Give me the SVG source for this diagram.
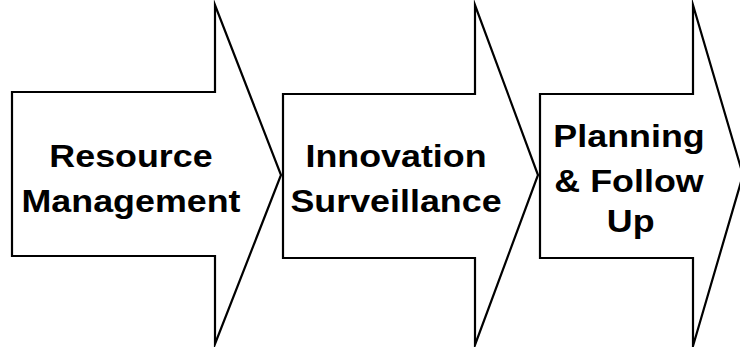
<svg xmlns="http://www.w3.org/2000/svg" width="740" height="347" viewBox="0 0 740 347">
<style>
.arrow{fill:#ffffff;stroke:#000000;stroke-width:2.2;stroke-linejoin:miter;stroke-miterlimit:20}
.lbl{font-family:"Liberation Sans",Arial,sans-serif;font-weight:bold;font-size:32px;fill:#000000;text-anchor:middle}
</style>
<rect width="740" height="347" fill="#ffffff"/>
<g id="node-resource-management">
<polygon class="arrow" points="12,92 215,92 215,5 281,175 215,344 215,256 12,256"/>
<text class="lbl" transform="translate(131,0) scale(1.12,1)"><tspan x="0" y="167">Resource</tspan><tspan x="0" y="212">Management</tspan></text>
</g>
<g id="node-innovation-surveillance">
<polygon class="arrow" points="283,94 475,94 475,5 538,175 475,345 475,258 283,258"/>
<text class="lbl" transform="translate(396,0) scale(1.12,1)"><tspan x="0" y="167">Innovation</tspan><tspan x="0" y="212">Surveillance</tspan></text>
</g>
<g id="node-planning-follow-up">
<polygon class="arrow" points="540,94 693,94 693,5 743,175 693,346 693,258 540,258"/>
<text class="lbl" transform="translate(629,0) scale(1.12,1)"><tspan x="0" y="147">Planning</tspan><tspan x="0" y="192">&amp; Follow</tspan><tspan x="1.5" y="232">Up</tspan></text>
</g>
<g id="connectors"/>
</svg>
